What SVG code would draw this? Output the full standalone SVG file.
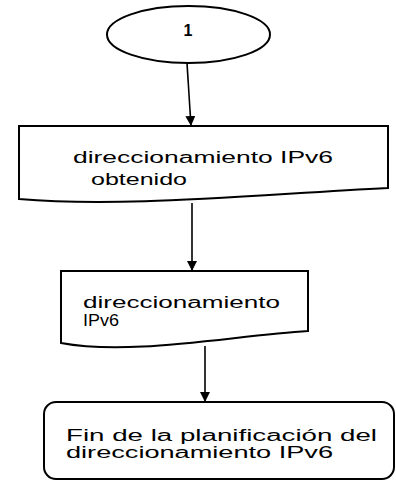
<svg xmlns="http://www.w3.org/2000/svg" width="396" height="481" viewBox="0 0 396 481">
<defs>
<marker id="ah" viewBox="0 0 10 10" refX="10" refY="5" markerWidth="10" markerHeight="10" markerUnits="userSpaceOnUse" orient="auto">
<path d="M0,0 L10,5 L0,10 Z" fill="#000"/>
</marker>
</defs>
<style>
.shape{fill:#fff;stroke:#000;stroke-width:2}
.t{font-family:"Liberation Sans",Arial,sans-serif;font-size:16px;fill:#000}
.edge{stroke:#000;stroke-width:1.6;fill:none;marker-end:url(#ah)}
</style>
<rect width="396" height="481" fill="#fff"/>
<g id="connectors">
<line class="edge" x1="187" y1="63" x2="191" y2="126"/>
<line class="edge" x1="192" y1="203" x2="192" y2="271"/>
<line class="edge" x1="205" y1="346" x2="205" y2="402"/>
</g>
<g id="n1">
<ellipse class="shape" cx="188.5" cy="34.5" rx="81.5" ry="28.5"/>
<text class="t" x="188" y="36" text-anchor="middle" font-weight="bold" font-size="17">1</text>
</g>
<g id="n2">
<path class="shape" d="M19,126 H388 V188 C250,195 120,208 19,199 Z"/>
<text class="t" x="73" y="163" textLength="260" lengthAdjust="spacingAndGlyphs">direccionamiento IPv6</text>
<text class="t" x="91" y="185" textLength="96" lengthAdjust="spacingAndGlyphs">obtenido</text>
</g>
<g id="n3">
<path class="shape" d="M61,271 H308 V331 C230,336 130,356 61,343 Z"/>
<text class="t" x="83" y="308" textLength="197" lengthAdjust="spacingAndGlyphs">direccionamiento</text>
<text class="t" x="83" y="326" textLength="36" lengthAdjust="spacingAndGlyphs">IPv6</text>
</g>
<g id="n4">
<rect class="shape" x="44" y="402" width="350" height="77" rx="12"/>
<text class="t" x="66" y="441" textLength="311" lengthAdjust="spacingAndGlyphs">Fin de la planificación del</text>
<text class="t" x="66" y="458" textLength="267" lengthAdjust="spacingAndGlyphs">direccionamiento IPv6</text>
</g>
</svg>
